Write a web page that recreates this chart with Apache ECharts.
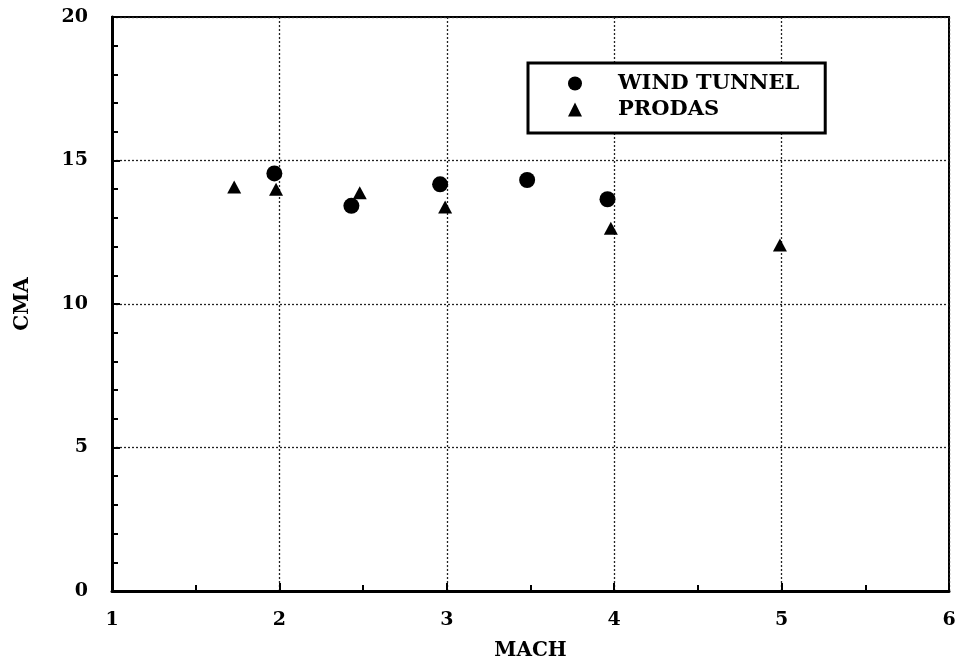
<!DOCTYPE html>
<html>
<head>
<meta charset="utf-8">
<script src="https://cdn.jsdelivr.net/npm/echarts@6/dist/echarts.min.js"></script>
<style>
html,body{margin:0;padding:0;background:#fff;}
#chart{width:959px;height:666px;}
</style>
</head>
<body>
<div id="chart"></div>
<script>
// Data
const windTunnelMach = [1.97, 2.43, 2.96, 3.48, 3.96];
const windTunnelCma  = [14.55, 13.42, 14.17, 14.32, 13.65];
const prodasMach = [1.73, 1.98, 2.48, 2.99, 3.98, 4.99];
const prodasCma  = [14.08, 14.0, 13.88, 13.38, 12.64, 12.06];
const seriesNames = ['WIND TUNNEL', 'PRODAS'];
const xAxisName = 'MACH';
const yAxisName = 'CMA';

const FONT = 'DejaVu Serif';
const pairs = (xs, ys) => xs.map((x, i) => [x, ys[i]]);

const chart = echarts.init(document.getElementById('chart'), null, {renderer: 'canvas'});
chart.setOption({
  animation: false,
  backgroundColor: '#fff',
  grid: {
    left: 112, right: 10, top: 17, bottom: 75,
    outerBoundsMode: 'none', containLabel: false,
    show: true, borderColor: '#000', borderWidth: 2, backgroundColor: 'transparent'
  },
  legend: {
    orient: 'vertical',
    left: 528, top: 63,
    data: [
      {name: seriesNames[0], icon: 'circle'},
      {name: seriesNames[1], icon: 'triangle'}
    ],
    itemWidth: 14, itemHeight: 14, itemGap: 5,
    padding: [10, 26, 13, 40],
    borderColor: '#000', borderWidth: 3,
    backgroundColor: '#fff',
    textStyle: {fontFamily: FONT, fontWeight: 'bold', fontSize: 21, color: '#000', padding: [0, 0, 0, 31]}
  },
  xAxis: {
    type: 'value', min: 1, max: 6, interval: 1,
    name: xAxisName, nameLocation: 'middle', nameGap: 50,
    nameTextStyle: {fontFamily: FONT, fontWeight: 'bold', fontSize: 20, color: '#000'},
    axisLine: {show: true, lineStyle: {color: '#000', width: 3}},
    axisTick: {show: true, inside: true, length: 8, lineStyle: {color: '#000', width: 2}},
    minorTick: {show: true, splitNumber: 2, length: 6, lineStyle: {color: '#000', width: 2}},
    axisLabel: {fontFamily: FONT, fontWeight: 'bold', fontSize: 19, color: '#000', margin: 20},
    splitLine: {show: true, lineStyle: {color: '#222', width: 1.3, type: [2, 2]}}
  },
  yAxis: {
    type: 'value', min: 0, max: 20, interval: 5,
    name: yAxisName, nameLocation: 'middle', nameGap: 79, nameRotate: 90,
    nameTextStyle: {fontFamily: FONT, fontWeight: 'bold', fontSize: 20, color: '#000'},
    axisLine: {show: true, lineStyle: {color: '#000', width: 3}},
    axisTick: {show: true, inside: true, length: 8, lineStyle: {color: '#000', width: 2}},
    minorTick: {show: true, splitNumber: 5, length: 6, lineStyle: {color: '#000', width: 2}},
    axisLabel: {fontFamily: FONT, fontWeight: 'bold', fontSize: 19, color: '#000', margin: 24},
    splitLine: {show: true, lineStyle: {color: '#222', width: 1.3, type: [2, 2]}}
  },
  series: [
    {
      name: seriesNames[0], type: 'scatter', symbol: 'circle', symbolSize: 16,
      itemStyle: {color: '#000', opacity: 1},
      data: pairs(windTunnelMach, windTunnelCma)
    },
    {
      name: seriesNames[1], type: 'scatter', symbol: 'triangle', symbolSize: [14, 13],
      itemStyle: {color: '#000', opacity: 1},
      data: pairs(prodasMach, prodasCma)
    }
  ]
});
</script>
</body>
</html>
